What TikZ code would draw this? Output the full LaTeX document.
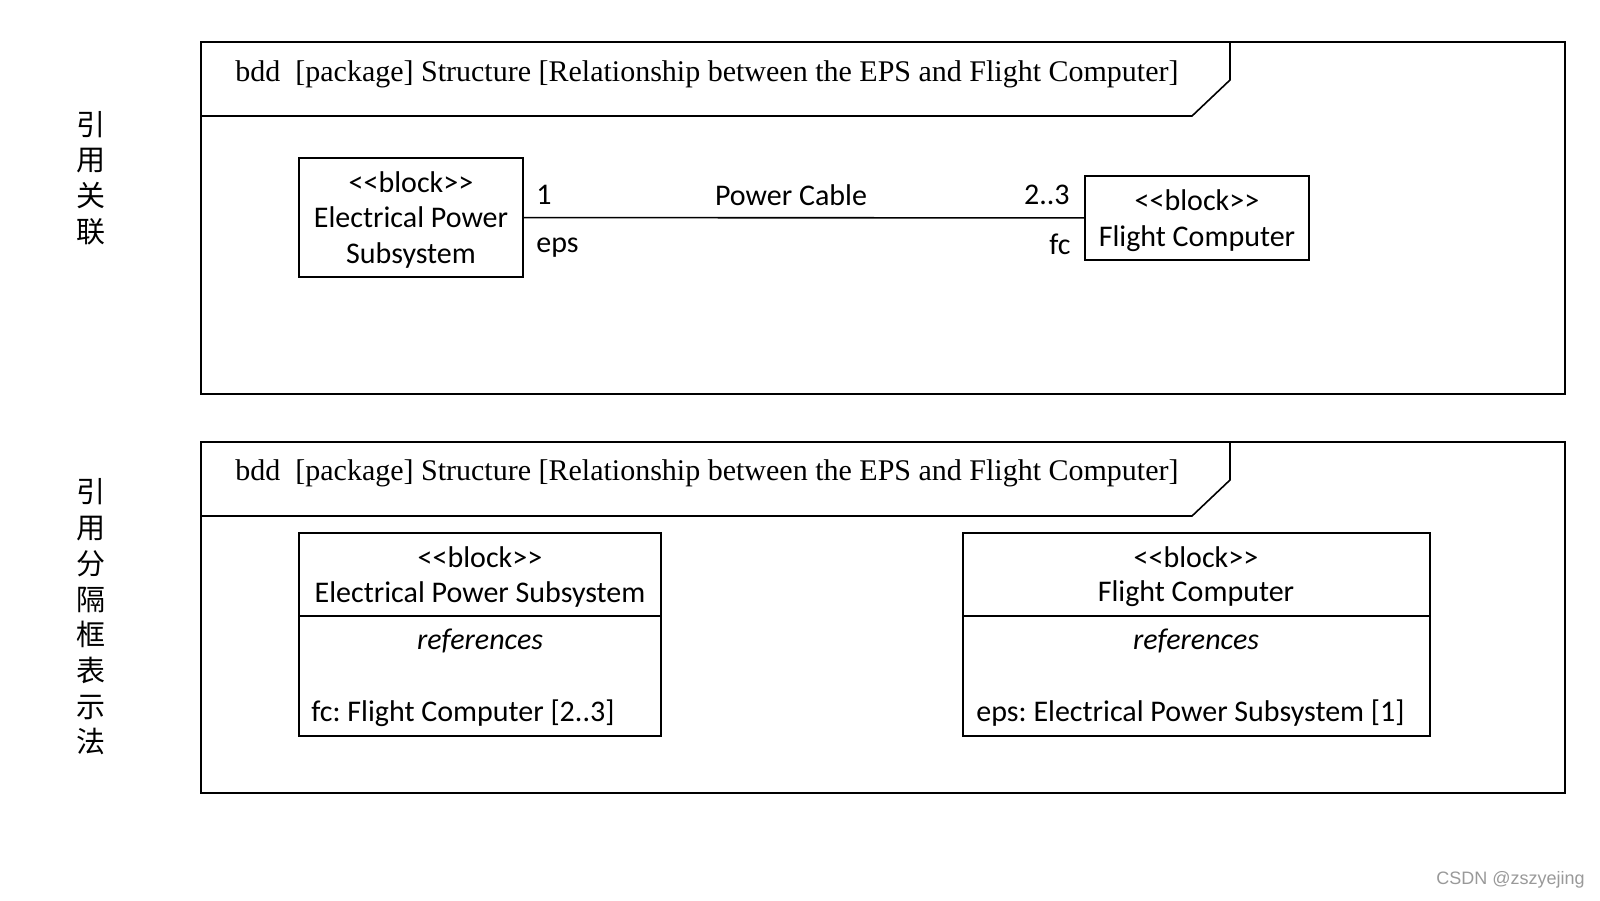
\documentclass[tikz,border=0pt]{standalone}
\usepackage{fontspec}
\setmainfont{Liberation Serif}
\setsansfont{Carlito}[Ligatures=TeXOff]
\newfontfamily\cjkfont{Noto Sans CJK SC}
\newfontfamily\markfont{Liberation Sans}
\usetikzlibrary{positioning}
\frenchspacing

\begin{document}
\begin{tikzpicture}[
  x=0.5pt, y=-0.5pt,
  frameline/.style={draw=black, line width=0.8pt},
  title/.style={font=\rmfamily\fontsize{15}{18}\selectfont, anchor=west, inner sep=0pt},
  blockbox/.style={
    rectangle, draw=black, line width=0.9pt,
    font=\sffamily\fontsize{15}{17.85}\selectfont, align=center
  },
  sans/.style={font=\sffamily\fontsize{15}{17.85}\selectfont, inner sep=0pt},
  endlbl/.style={sans},
  side/.style={font=\cjkfont\fontsize{14.5}{17.85}\selectfont, align=center, inner sep=0pt}
]
\useasboundingbox (0,0) rectangle (1600,900);

%  Side captions 
\node[side] (cap1) at (91,178) {引\\用\\关\\联};
\node[side] (cap2) at (91,617) {引\\用\\分\\隔\\框\\表\\示\\法};

%  Upper frame: association 
\draw[frameline] (201,42) rectangle (1565,394);
\draw[frameline] (201,116) -- (1192,116) -- (1230,80) -- (1230,42);
\node[title] (head1) at (235,74) {bdd\ \ [package] Structure [Relationship between the EPS and Flight Computer]};

\node[blockbox, minimum width=112pt, minimum height=59.5pt, text depth=-1pt] (eps1) at (411,217.5)
  {<<block>>\\Electrical Power\\Subsystem};
\node[blockbox, minimum width=112pt, minimum height=42pt, text depth=-1pt] (fc1) at (1197,218)
  {<<block>>\\Flight Computer};

\draw[line width=0.8pt] (eps1) -- (fc1);

\node[endlbl, anchor=west] (mult1) at (536,195) {1};
\node[endlbl, anchor=west] (role1) at (536,248) {eps};
\node[endlbl] (cable) at (791,195) {Power Cable};
\node[endlbl, anchor=east] (mult2) at (1070,195) {2..3};
\node[endlbl, anchor=east] (role2) at (1071,244) {fc};

%  Lower frame: compartments 
\draw[frameline] (201,442) rectangle (1565,793);
\draw[frameline] (201,516) -- (1192,516) -- (1230,480) -- (1230,442);
\node[title] (head2) at (235,473) {bdd\ \ [package] Structure [Relationship between the EPS and Flight Computer]};

\node[blockbox, minimum width=181pt, minimum height=101.5pt] (eps2) at (480,634.5) {};
\draw[line width=0.9pt] (eps2.west |- 0,616) -- (eps2.east |- 0,616);
\node[sans] (eps2st) at (480,557) {<<block>>};
\node[sans] (eps2nm) at (480,594) {Electrical Power Subsystem};
\node[sans] (eps2cp) at (480,641) {\itshape references};
\node[sans, anchor=west] (eps2rf) at (311,713) {fc: Flight Computer [2..3]};

\node[blockbox, minimum width=233.5pt, minimum height=101.5pt] (fc2) at (1196.5,634.5) {};
\draw[line width=0.9pt] (fc2.west |- 0,616) -- (fc2.east |- 0,616);
\node[sans] (fc2st) at (1196,557) {<<block>>};
\node[sans] (fc2nm) at (1196,594) {Flight Computer};
\node[sans] (fc2cp) at (1196,641) {\itshape references};
\node[sans, anchor=west] (fc2rf) at (976,713) {eps: Electrical Power Subsystem [1]};

\node[font=\markfont\fontsize{9}{10}\selectfont, text=black!40, anchor=east, inner sep=0pt] (mark) at (1585,880) {CSDN @zszyejing};

\end{tikzpicture}
\end{document}
